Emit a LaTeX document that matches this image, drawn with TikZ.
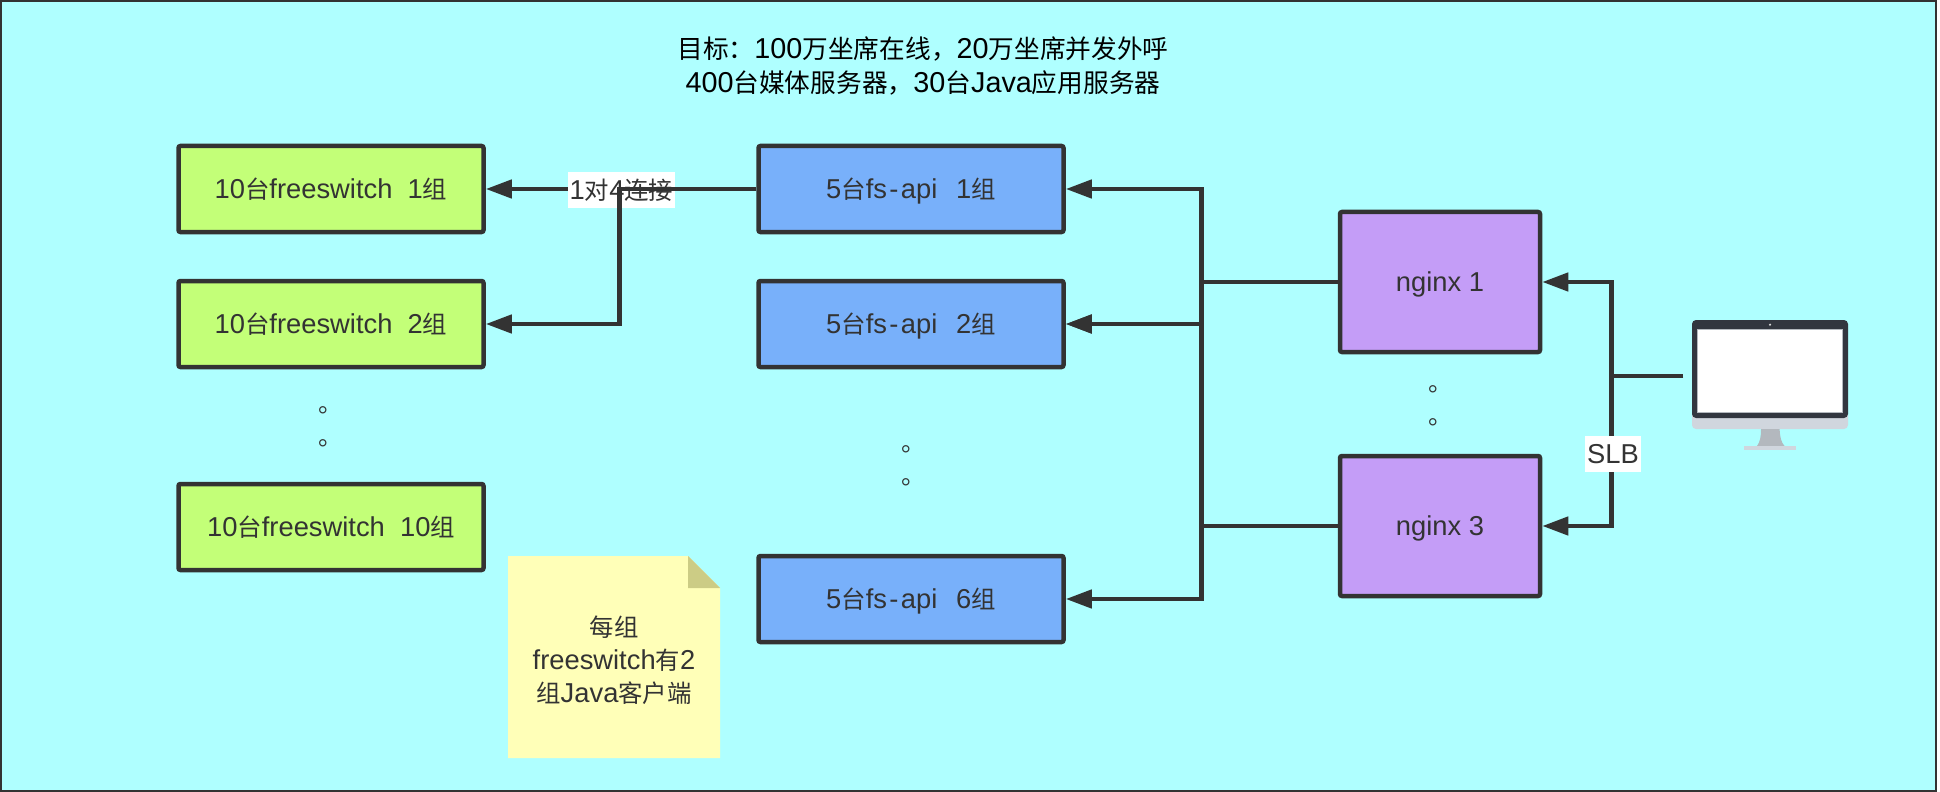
\documentclass[tikz,border=0pt]{standalone}
\usepackage{fontspec}
\setmainfont[Scale=1.12]{Liberation Sans}
\newfontfamily\cjk{Noto Sans CJK SC}
\newcommand{\zh}[1]{{\cjk #1}}
\newcommand{\fsapi}{fs\kern1.2pt-\kern1.2pt api\hspace{1.8pt}}
\definecolor{inkdark}{HTML}{333333}
\definecolor{canvascyan}{HTML}{AFFFFF}
\definecolor{switchgreen}{HTML}{C3FF78}
\definecolor{apiblue}{HTML}{78B0FA}
\definecolor{nginxpurple}{HTML}{C49DF7}
\definecolor{noteyellow}{HTML}{FFFFB8}
\definecolor{notefold}{HTML}{CCCC85}
\definecolor{screendark}{HTML}{32363F}
\definecolor{chingrey}{HTML}{D0D6DE}
\definecolor{standgrey}{HTML}{B3B8BE}
\usetikzlibrary{arrows.meta}
\begin{document}
\begin{tikzpicture}
[x=0.5pt,y=-0.5pt,
  every node/.style={text=inkdark,font=\fontsize{12.2}{16.6}\selectfont},
  nodedecorate/.style={shape=rectangle,draw=inkdark,line width=2.25pt,rounded corners=1pt,text height=10.2pt,text depth=1pt},%
  switchdecorate/.style={nodedecorate,fill=switchgreen,minimum width=152.5pt,minimum height=43pt},%
  apidecorate/.style={nodedecorate,fill=apiblue,minimum width=152.5pt,minimum height=43pt},%
  nginxdecorate/.style={nodedecorate,fill=nginxpurple,minimum width=100pt,minimum height=70pt},%
  linedecorate/.style={draw=inkdark,line width=2.25pt},%
  arrowdecorate/.style={linedecorate,-{Triangle[length=13pt,width=9pt]}},%
  labeldecorate/.style={fill=white,inner sep=1pt,minimum height=18pt},%
  dotsdecorate/.style={align=center,inner sep=0pt}]
\useasboundingbox (0,0) rectangle (1940,792);
%% background
\draw[fill=canvascyan,draw=inkdark,line width=1.25pt] (1,1) rectangle (1936,790.8);
%% title and note
\node (title) at (923,66) [align=center,inner sep=0pt,text=black,font=\fontsize{12.85}{16.6}\selectfont] {\zh{目标：}100\zh{万坐席在线，}20\zh{万坐席并发外呼}\\
  400\zh{台媒体服务器，}30\zh{台}Java\zh{应用服务器}};
\fill[noteyellow] (508,556) -- (688,556) -- (720,588) -- (720,758) -- (508,758) -- cycle;
\fill[notefold] (688,556) -- (720,588) -- (688,588) -- cycle;
\node (note) at (614,660) [align=center,inner sep=0pt] {\zh{每组}\\freeswitch\zh{有}2\\\zh{组}Java\zh{客户端}};
%% nodes or vertices
\foreach \nodename/\x/\y/\nodestyle/\nodetext in {
  fsw1/331/189/switchdecorate/{10\zh{台}freeswitch\ \ 1\zh{组}},
  fsw2/331/324/switchdecorate/{10\zh{台}freeswitch\ \ 2\zh{组}},
  fsw10/331/527/switchdecorate/{10\zh{台}freeswitch\ \ 10\zh{组}},
  api1/911/189/apidecorate/{5\zh{台}\fsapi\ \ 1\zh{组}},
  api2/911/324/apidecorate/{5\zh{台}\fsapi\ \ 2\zh{组}},
  api6/911/599/apidecorate/{5\zh{台}\fsapi\ \ 6\zh{组}},
  nginx1/1440/282/nginxdecorate/{nginx 1},
  nginx3/1440/526/nginxdecorate/{nginx 3}}
{
  \node (\nodename) at (\x,\y) [\nodestyle] {\nodetext};
}
\foreach \dotsname/\x/\y in {dotsfsw/331/427, dotsapi/914/466, dotsnginx/1441/406}
{
  \node (\dotsname) at (\x,\y) [dotsdecorate] {\zh{。}\\\zh{。}};
}
%% monitor
\fill[rounded corners=2pt,chingrey] (1692,410) rectangle (1848,429);
\fill[rounded corners=2pt,screendark] (1692,320) rectangle (1848,418);
\node (screen) at (1769.5,370.5) [shape=rectangle,fill=white,draw=standgrey,line width=0.3pt,minimum width=72.5pt,minimum height=41.5pt] {};
\fill[white!70!gray] (1770,324.7) circle (0.6pt);
\fill[standgrey] (1761,429) .. controls (1761,437) and (1760,442) .. (1757,446) -- (1784.5,446) .. controls (1781,442) and (1780,437) .. (1779.6,429) -- cycle;
\fill[chingrey] (1744,446) rectangle (1796,450);
\coordinate (monitorport) at (1683,376);
%% bus coordinates
\coordinate (busapi) at (1201.5,0);
\coordinate (busfsw) at (619.5,0);
\coordinate (busslb) at (1611.5,0);
%% edges or lines
\draw[arrowdecorate] (api1.west) -- (fsw1.east);
\node (onetofour) at (621.5,190) [labeldecorate,minimum width=53.5pt] {1\zh{对}4\zh{连接}};
\draw[arrowdecorate] (api1.west) -- (api1.west -| busfsw) |- (fsw2.east);
\foreach \startnode/\endnode in {nginx1/api1, nginx1/api2, nginx3/api2, nginx3/api6}
{
  \draw[arrowdecorate] (\startnode.west) -- (\startnode.west -| busapi) |- (\endnode.east);
}
\foreach \endnode in {nginx1, nginx3}
{
  \draw[arrowdecorate] (monitorport) -- (monitorport -| busslb) |- (\endnode.east);
}
\node (slb) at (1613,454) [labeldecorate,minimum width=27pt] {SLB};
\end{tikzpicture}
\end{document}
